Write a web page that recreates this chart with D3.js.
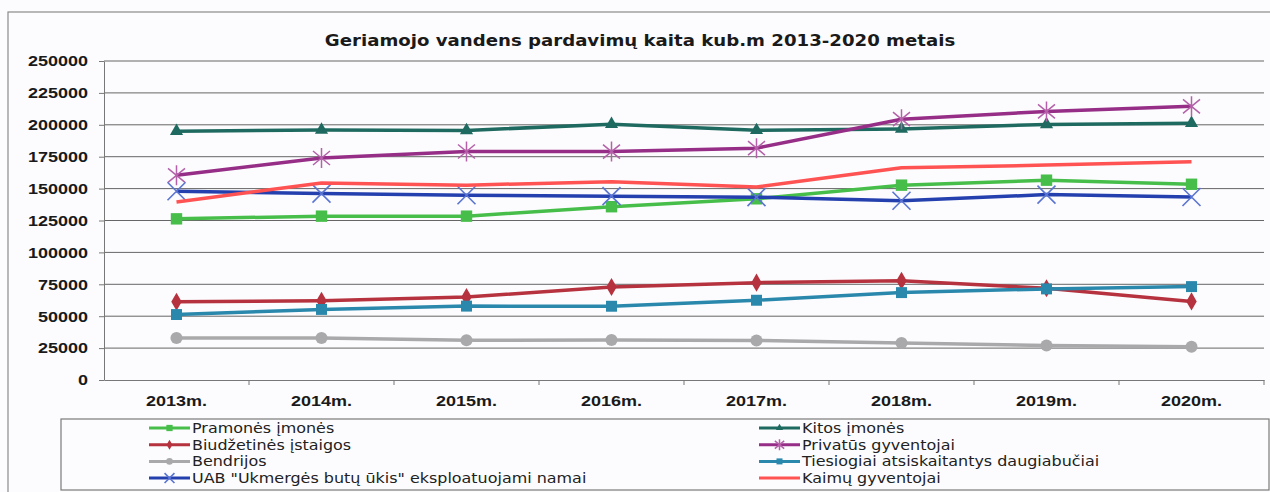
<!DOCTYPE html>
<html>
<head>
<meta charset="utf-8">
<script src="https://cdn.jsdelivr.net/npm/d3@7"></script>
<style>
  body { margin: 0; background: #fff; }
  svg { display: block; font-family: "DejaVu Sans", Arial, sans-serif; }
  .grid line { stroke: #666; stroke-width: 1; }
  .axis path, .axis line { stroke: #777; }
  .axis text { font-weight: bold; font-size: 15px; fill: #1a1a1a; }
  .legend text { font-size: 14px; fill: #222; }
</style>
</head>
<body>
<svg id="chart"></svg>
<script>
// chart data
var years = ["2013m.", "2014m.", "2015m.", "2016m.", "2017m.", "2018m.", "2019m.", "2020m."];
var yTicks = [0, 25000, 50000, 75000, 100000, 125000, 150000, 175000, 200000, 225000, 250000];

var pramones    = [126300, 128400, 128400, 135800, 142000, 152700, 156600, 153400];
var kitos       = [195000, 196000, 195600, 200500, 195700, 196800, 200300, 201300];
var biudzetines = [61300, 62100, 65000, 72900, 76300, 77800, 71900, 61600];
var privatus    = [160400, 174000, 179100, 179000, 181700, 204400, 210500, 214500];
var bendrijos   = [32900, 32900, 31100, 31300, 31000, 29000, 27000, 26000];
var tiesiogiai  = [51300, 55300, 57900, 57800, 62500, 68500, 71400, 73200];
var uab         = [147900, 146100, 144800, 144100, 143300, 140500, 145300, 143400];
var kaimu       = [139500, 154400, 152700, 155400, 151300, 166300, 168400, 171000];

var seriesNames = [
  "Pramonės įmonės", "Kitos įmonės", "Biudžetinės įstaigos", "Privatūs gyventojai",
  "Bendrijos", "Tiesiogiai atsiskaitantys daugiabučiai",
  "UAB \"Ukmergės butų ūkis\" eksploatuojami namai", "Kaimų gyventojai"
];
var seriesValues = [pramones, kitos, biudzetines, privatus, bendrijos, tiesiogiai, uab, kaimu];

// look of each series
var styles = [
  {line: "#47be4a", marker: "square", fill: "#47be4a", size: 130},
  {line: "#1f6a60", marker: "triangle", fill: "#1f6a60", size: 75},
  {line: "#b5323e", marker: "diamond", fill: "#b5323e", size: 95},
  {line: "#962d86", marker: "star", fill: "#b461a9", size: 10},
  {line: "#a9a9ab", marker: "circle", fill: "#a9a9ab", size: 115},
  {line: "#2a88ad", marker: "square", fill: "#2a88ad", size: 120},
  {line: "#2440ae", marker: "x", fill: "#5a74d2", size: 9},
  {line: "#ff5252", marker: "none", fill: "none", size: 0}
];

// the scanned chart is wider than tall, so text is stretched sideways
var stretch = 1.2;

var W = 1270, H = 492;
var margin = {top: 61, right: 6, bottom: 112, left: 104},
  width = W - margin.left - margin.right,
  height = H - margin.top - margin.bottom;

var svg = d3.select("#chart").attr("width", W).attr("height", H);

svg.append("rect").attr("width", W).attr("height", H).attr("fill", "#fcfcfe");

// outer chart border
svg.append("rect")
  .attr("x", 8).attr("y", 12).attr("width", W).attr("height", H)
  .attr("fill", "none").attr("stroke", "#8a8a8a").attr("stroke-width", 1.2);

// title
svg.append("text")
  .attr("transform", "translate(640,46) scale(1.1,1)")
  .attr("text-anchor", "middle")
  .style("font-weight", "bold").style("font-size", "16.5px").style("fill", "#1a1a1a")
  .text("Geriamojo vandens pardavimų kaita kub.m 2013-2020 metais");

var g = svg.append("g").attr("transform", "translate(" + margin.left + "," + margin.top + ")");

var x = d3.scaleBand().domain(years).range([0, width]);
var y = d3.scaleLinear().domain([0, 250000]).range([height, 0]);

// gridlines
g.append("g").attr("class", "grid")
  .selectAll("line").data(yTicks.slice(1)).enter().append("line")
  .attr("x1", 0).attr("x2", width)
  .attr("y1", function(d) { return y(d); }).attr("y2", function(d) { return y(d); });

// y axis
var yAxis = g.append("g").attr("class", "axis")
  .call(d3.axisLeft(y).tickValues(yTicks).tickSize(5).tickSizeOuter(0).tickPadding(10)
    .tickFormat(d3.format("d")));
yAxis.selectAll("text")
  .attr("x", -16 / stretch)
  .attr("transform", "scale(" + stretch + ",1)");

// x axis (labels only, ticks drawn at category boundaries)
var xAxis = g.append("g").attr("class", "axis")
  .attr("transform", "translate(0," + height + ")")
  .call(d3.axisBottom(x).tickSize(0).tickPadding(16));
xAxis.select(".domain").attr("stroke", "#666");
xAxis.selectAll("text").attr("dy", "0.7em")
  .attr("transform", "scale(" + stretch + ",1)");

xAxis.selectAll(".bound").data(years).enter().append("line")
  .attr("class", "bound")
  .attr("x1", function(d) { return x(d) + x.bandwidth(); })
  .attr("x2", function(d) { return x(d) + x.bandwidth(); })
  .attr("y1", 0).attr("y2", 5)
  .attr("stroke", "#777");

var line = d3.line()
  .x(function(d, i) { return x(years[i]) + x.bandwidth() / 2; })
  .y(function(d) { return y(d); });

function drawMarker(sel, st, scale) {
  var s = scale || 1;
  if (st.marker === "none") return;
  if (st.marker === "star") {
    var r = st.size * s;
    sel.append("path")
      .attr("d", "M0," + (-r) + "L0," + r +
        "M" + (-r * 0.85) + "," + (-r * 0.7) + "L" + (r * 0.85) + "," + (r * 0.7) +
        "M" + (-r * 0.85) + "," + (r * 0.7) + "L" + (r * 0.85) + "," + (-r * 0.7))
      .attr("stroke", st.fill).attr("stroke-width", 1.5).attr("fill", "none");
  } else if (st.marker === "x") {
    var q = st.size * s;
    sel.append("path")
      .attr("d", "M" + (-q) + "," + (-q) + "L" + q + "," + q + "M" + (-q) + "," + q + "L" + q + "," + (-q))
      .attr("stroke", st.fill).attr("stroke-width", 1.6).attr("fill", "none");
  } else {
    var types = {square: d3.symbolSquare, triangle: d3.symbolTriangle, diamond: d3.symbolDiamond, circle: d3.symbolCircle};
    sel.append("path")
      .attr("d", d3.symbol().type(types[st.marker]).size(st.size * s * s)())
      .attr("fill", st.fill);
  }
}

seriesValues.forEach(function(vals, k) {
  var st = styles[k];
  var sg = g.append("g");
  sg.append("path").datum(vals)
    .attr("d", line)
    .attr("fill", "none")
    .attr("stroke", st.line)
    .attr("stroke-width", 3.5)
    .attr("stroke-linejoin", "round");
  sg.selectAll(".pt").data(vals).enter().append("g")
    .attr("class", "pt")
    .attr("transform", function(d, i) {
      return "translate(" + (x(years[i]) + x.bandwidth() / 2) + "," + y(d) + ")";
    })
    .each(function() { drawMarker(d3.select(this), st); });
});

// legend
var legend = svg.append("g").attr("class", "legend");
legend.append("rect")
  .attr("x", 61).attr("y", 419).attr("width", 1208).attr("height", 71)
  .attr("fill", "none").attr("stroke", "#7a7a7a").attr("stroke-width", 1.2);

var legendOrder = [0, 2, 4, 6, 1, 3, 5, 7];
legendOrder.forEach(function(k, j) {
  var col = j < 4 ? 0 : 1;
  var row = j % 4;
  var lx = col === 0 ? 149 : 759;
  var ly = 428 + row * 16.7;
  var st = styles[k];
  var item = legend.append("g").attr("transform", "translate(" + lx + "," + ly + ")");
  item.append("line").attr("x1", 0).attr("x2", 41).attr("y1", 0).attr("y2", 0)
    .attr("stroke", st.line).attr("stroke-width", 3);
  var m = item.append("g").attr("transform", "translate(20.5,0)");
  drawMarker(m, st, 0.55);
  item.append("text")
    .attr("transform", "translate(43,0) scale(1.14,1)")
    .attr("dy", "0.36em").text(seriesNames[k]);
});
</script>
</body>
</html>
